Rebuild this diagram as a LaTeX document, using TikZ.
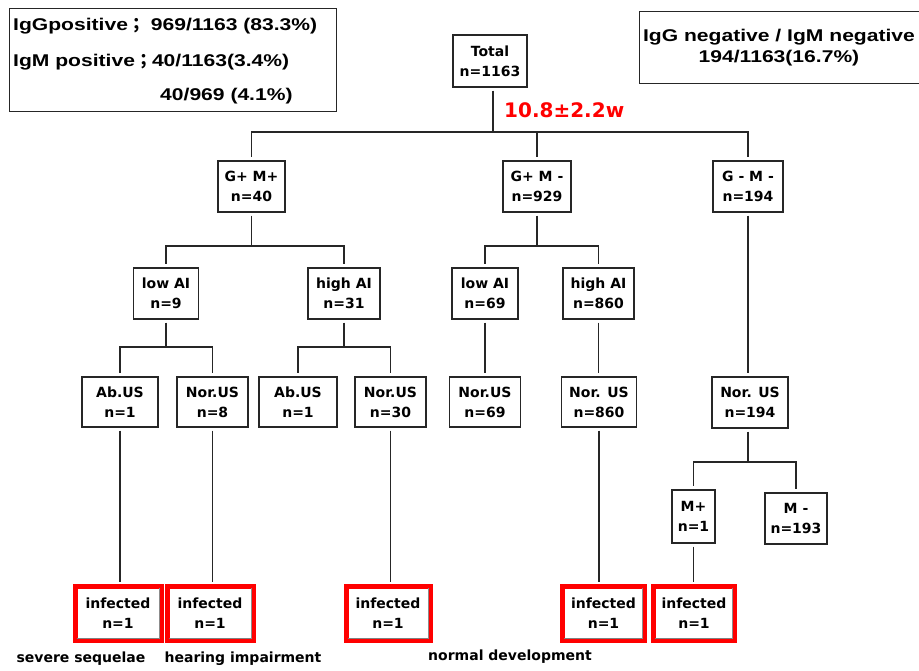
\documentclass[tikz,border=0pt]{standalone}
\usepackage{fontspec}
\setmainfont{DejaVu Sans}
\newfontfamily\arialx[FakeStretch=1.24]{Liberation Sans}
\newfontfamily\cjk{Noto Sans CJK JP}
\usetikzlibrary{calc}
\tikzset{
  box/.style={draw=black!85, line width=1.1pt, fill=white, inner sep=0pt, align=center,
    font=\bfseries\fontsize{14}{20}\selectfont},
  infbox/.style={draw=red, line width=5pt, fill=white, inner sep=0pt, align=center,
    minimum width=86pt, minimum height=54pt, font=\bfseries\fontsize{14}{20}\selectfont},
  conn/.style={draw=black!85, line width=1.1pt},
  toplabel/.style={inner sep=0pt, font=\arialx\bfseries\fontsize{17}{21}\selectfont},
  botlabel/.style={inner sep=0pt, font=\bfseries\fontsize{14}{18}\selectfont},
}
\begin{document}
\begin{tikzpicture}[x=1pt,y=-1pt]
\useasboundingbox (0,0) rectangle (919,670);
\fill[white] (0,0) rectangle (919,670);

% info boxes
\node[draw=black!85, line width=1.2pt, minimum width=327pt, minimum height=103pt, anchor=north west, inner sep=0pt] (igbox) at (9,8) {};
\node[toplabel, anchor=west] (l1) at (13,26) {IgGpositive{\cjk ；} 969/1163 (83.3\%)};
\node[toplabel, anchor=west] (l2) at (13,62) {IgM positive{\cjk ；}40/1163(3.4\%)};
\node[toplabel, anchor=west] (l3) at (160,96) {40/969 (4.1\%)};

\node[draw=black!85, line width=1.2pt, minimum width=300pt, minimum height=72pt, anchor=north west, inner sep=0pt] (negbox) at (639,11) {};
\node[toplabel, align=center] (neg) at (779,48) {IgG negative / IgM negative\\194/1163(16.7\%)};

% tree nodes
\node[box, minimum width=74pt, minimum height=52pt] (total) at (490,61) {Total\\n=1163};
\node[anchor=west, inner sep=0pt, text=red, font=\bfseries\fontsize{20}{24}\selectfont] (avg) at (504,110) {10.8±2.2w};

\node[box, minimum width=67pt, minimum height=51pt] (gpmp) at (251.5,186.5) {G+ M+\\n=40};
\node[box, minimum width=68pt, minimum height=51pt] (gpmm) at (537,186.5) {G+ M -\\n=929};
\node[box, minimum width=70pt, minimum height=51pt] (gmmm) at (748,186.5) {G - M -\\n=194};

\node[box, minimum width=65pt, minimum height=51pt] (lowa) at (166,293.5) {low AI\\ n=9};
\node[box, minimum width=72pt, minimum height=51pt] (higha) at (344,293.5) {high AI\\n=31};
\node[box, minimum width=66pt, minimum height=51pt] (lowb) at (485,293.5) {low AI\\ n=69};
\node[box, minimum width=71pt, minimum height=51pt] (highb) at (598.5,293.5) {high AI\\n=860};

\node[box, minimum width=76pt, minimum height=50pt] (ab1) at (120,402) {Ab.US\\n=1};
\node[box, minimum width=71pt, minimum height=50pt] (nor8) at (212.5,402) {Nor.US\\n=8};
\node[box, minimum width=78pt, minimum height=50pt] (ab2) at (298,402) {Ab.US\\n=1};
\node[box, minimum width=71pt, minimum height=50pt] (nor30) at (390.5,402) {Nor.US\\n=30};
\node[box, minimum width=71pt, minimum height=50pt] (nor69) at (485,402) {Nor.US\\n=69};
\node[box, minimum width=75pt, minimum height=50pt] (nor860) at (599,402) {Nor. US\\n=860};
\node[box, minimum width=76pt, minimum height=51pt] (nor194) at (750,402.5) {Nor. US\\n=194};

\node[box, minimum width=43pt, minimum height=53pt] (mp) at (693.5,516.5) {M+\\n=1};
\node[box, minimum width=62pt, minimum height=51pt] (mm) at (796,518.5) {M -\\n=193};

\node[infbox] (inf1) at (118,613.5) {infected\\n=1};
\node[infbox] (inf2) at (210,613.5) {infected\\n=1};
\node[infbox, minimum width=84pt] (inf3) at (388,613.5) {infected\\n=1};
\node[infbox, minimum width=82pt] (inf4) at (603.5,613.5) {infected\\n=1};
\node[infbox, minimum width=81pt] (inf5) at (694,613.5) {infected\\n=1};
\foreach \n in {inf1,inf2,inf3,inf4,inf5}{
  \draw[black!50, line width=1.6pt] ($(\n.south west)+(4,-4.5)$) -- ($(\n.south east)+(-4,-4.5)$);
  \draw[black!45, line width=1pt] ($(\n.south east)+(-4.5,-4)$) -- ($(\n.north east)+(-4.5,4)$);
}

\node[botlabel] (sev) at (81,659) {severe sequelae};
\node[botlabel] (hear) at (243,659) {hearing impairment};
\node[botlabel] (normdev) at (510,657) {normal development};

% connectors
\coordinate (b0) at (493,132);
\coordinate (b1) at (251.5,246);
\coordinate (b2) at (537,246);
\coordinate (b3) at (166,347);
\coordinate (b4) at (344,347);
\coordinate (b5) at (748,462);

\draw[conn, shorten <=3pt] (total.south -| b0) -- (b0);
\draw[conn, shorten >=3pt] (b0) -| (gpmp.north);
\draw[conn, shorten >=3pt] (b0) -| (gpmm.north);
\draw[conn, shorten >=3pt] (b0) -| (gmmm.north);

\draw[conn, shorten <=3pt] (gpmp.south) -- (b1);
\draw[conn, shorten >=3pt] (b1) -| (lowa.north);
\draw[conn, shorten >=3pt] (b1) -| (higha.north);

\draw[conn, shorten <=3pt] (gpmm.south) -- (b2);
\draw[conn, shorten >=3pt] (b2) -| (lowb.north);
\draw[conn, shorten >=3pt] (b2) -| (highb.north);

\draw[conn, shorten <=3pt] (lowa.south) -- (b3);
\draw[conn, shorten >=3pt] (b3) -| (ab1.north);
\draw[conn, shorten >=3pt] (b3) -| (nor8.north);

\draw[conn, shorten <=3pt] (higha.south) -- (b4);
\draw[conn, shorten >=3pt] (b4) -| (ab2.north);
\draw[conn, shorten >=3pt] (b4) -| (nor30.north);

\draw[conn, shorten <=3pt, shorten >=3pt] (lowb.south) -- (lowb.south |- nor69.north);
\draw[conn, shorten <=3pt, shorten >=3pt] (highb.south) -- (highb.south |- nor860.north);
\draw[conn, shorten <=3pt, shorten >=3pt] (gmmm.south) -- (gmmm.south |- nor194.north);

\draw[conn, shorten <=3pt] (nor194.south -| b5) -- (b5);
\draw[conn, shorten >=3pt] (b5) -| (mp.north);
\draw[conn, shorten >=3pt] (b5) -| (mm.north);

\draw[conn, shorten <=3pt, shorten >=2.5pt] (ab1.south) -- (ab1.south |- inf1.north);
\draw[conn, shorten <=3pt, shorten >=2.5pt] (nor8.south) -- (nor8.south |- inf2.north);
\draw[conn, shorten <=3pt, shorten >=2.5pt] (nor30.south) -- (nor30.south |- inf3.north);
\draw[conn, shorten <=3pt, shorten >=2.5pt] (nor860.south) -- (nor860.south |- inf4.north);
\draw[conn, shorten <=3pt, shorten >=2.5pt] (mp.south) -- (mp.south |- inf5.north);
\end{tikzpicture}
\end{document}
